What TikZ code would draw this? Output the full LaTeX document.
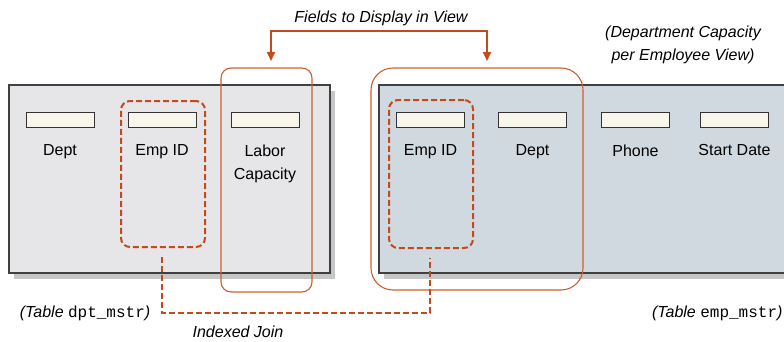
\documentclass[tikz,border=0pt]{standalone}
\usepackage{fontspec}
\setmainfont{Liberation Sans}
\setmonofont{Liberation Mono}
\usetikzlibrary{arrows.meta,positioning,shadows}
\definecolor{rust}{HTML}{C24A1C}
\definecolor{rustlite}{HTML}{CC5F30}
\definecolor{leftgray}{HTML}{E6E6E8}
\definecolor{rightblue}{HTML}{D1D9E0}
\definecolor{shadowgray}{HTML}{C6C6C6}
\definecolor{barcream}{HTML}{F8F5EB}
\tikzset{
  every node/.style={font=\fontsize{16}{23}\selectfont},
  dbtable/.style={draw=black!75,line width=1.1pt,inner sep=0pt,
    drop shadow={shadow xshift=5pt,shadow yshift=-6pt,fill=shadowgray,opacity=1}},
  fieldbar/.style={draw=black!80,fill=barcream,line width=0.9pt,inner sep=0pt,
    minimum width=68pt,minimum height=15pt},
  fieldlab/.style={inner sep=0pt,anchor=north,align=center,text=black},
  keybox/.style={draw=rust,line width=2pt,dash pattern=on 6pt off 3pt,rounded corners=9pt,inner sep=0pt},
  pickbox/.style={draw=rustlite,line width=1.1pt,inner sep=0pt},
  note/.style={font=\fontsize{16}{23}\selectfont\itshape,align=center,text=black},
  fieldarrow/.style={draw=rust,line width=2pt,{Triangle[length=9pt,width=8pt]}-{Triangle[length=9pt,width=8pt]}},
  joinline/.style={draw=rust,line width=2pt,dash pattern=on 6pt off 3pt}
}
\begin{document}
\begin{tikzpicture}[x=1pt,y=-1pt]
\useasboundingbox (0,0) rectangle (784,341);
\node[dbtable,fill=leftgray,minimum width=321pt,minimum height=188pt] (dpt) at (169.5,179) {}; % dpt_mstr
\node[dbtable,fill=rightblue,minimum width=430pt,minimum height=188pt] (emp) at (594,179) {}; % emp_mstr
% fields of dpt_mstr
\node[fieldbar] (dptA) at (60,119.5) {};
\node[fieldbar] (dptB) at (162,119.5) {};
\node[fieldbar] (dptC) at (265,119.5) {};
\node[fieldlab,below=17pt of dptA] (dptAl) {Dept};
\node[fieldlab,below=17pt of dptB] (dptBl) {Emp ID};
\node[fieldlab,below=17pt of dptC] (dptCl) {Labor\\Capacity};
% fields of emp_mstr
\node[fieldbar] (empA) at (430.5,119.5) {};
\node[fieldbar] (empB) at (532.5,119.5) {};
\node[fieldbar] (empC) at (635.5,119.5) {};
\node[fieldbar] (empD) at (734.5,119.5) {};
\node[fieldlab,below=17pt of empA] (empAl) {Emp ID};
\node[fieldlab,below=17pt of empB] (empBl) {Dept};
\node[fieldlab,below=17pt of empC] (empCl) {Phone};
\node[fieldlab,below=17pt of empD] (empDl) {Start Date};
% join keys
\node[keybox,minimum width=84pt,minimum height=146pt] (dptkey) at (163,174) {};
\node[keybox,minimum width=84pt,minimum height=148pt] (empkey) at (431,174) {};
% fields shown in the view
\node[pickbox,rounded corners=10pt,minimum width=91pt,minimum height=224pt] (dptpick) at (266.5,180) {};
\node[pickbox,rounded corners=22pt,minimum width=212pt,minimum height=222pt] (emppick) at (477,179) {};
% view fields arrow
\node[note] (fields) at (381,18) {Fields to Display in View};
\coordinate (tipL) at (271,61);
\coordinate (tipR) at (487,61);
\coordinate (fork) at (379,31);
\draw[fieldarrow] (tipL) |- (fork) -| (tipR);
% indexed join
\coordinate (joinL) at (162,257);
\coordinate (joinR) at (430,258);
\coordinate (joinM) at (296,313);
\draw[joinline] (joinL) |- (joinM) -| (joinR);
\node[note] (joinlab) at (238,332) {Indexed Join};
% captions
\node[note] (view) at (683,45) {(Department Capacity\\per Employee View)};
\node[note] (dptcap) at (85,313) {(Table \texttt{\upshape dpt\_mstr})};
\node[note,anchor=east] (empcap) at (786,313) {(Table \texttt{\upshape emp\_mstr})};
\end{tikzpicture}
\end{document}
